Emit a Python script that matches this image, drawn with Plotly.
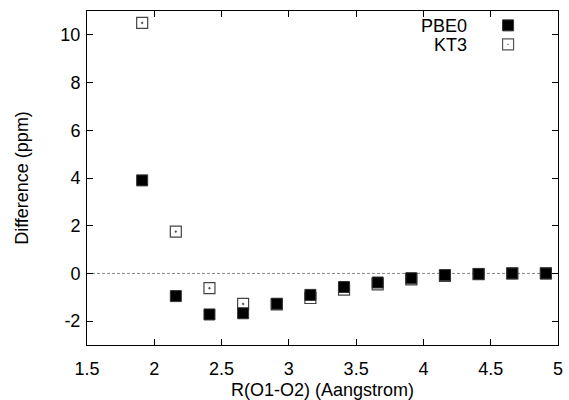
import plotly.graph_objects as go

# Data
r_values = [1.91, 2.16, 2.41, 2.66, 2.91, 3.16, 3.41, 3.66, 3.91, 4.16, 4.41, 4.66, 4.91]
pbe0_diff = [3.9, -0.95, -1.72, -1.67, -1.27, -0.9, -0.57, -0.38, -0.2, -0.07, -0.02, 0.0, 0.0]
kt3_diff = [10.5, 1.75, -0.62, -1.28, -1.3, -1.03, -0.68, -0.46, -0.25, -0.1, -0.03, 0.0, 0.0]
series_names = ["PBE0", "KT3"]
x_ticks = [1.5, 2, 2.5, 3, 3.5, 4, 4.5, 5]
y_ticks = [-2, 0, 2, 4, 6, 8, 10]

FONT = "Liberation Sans, Arial, Helvetica, sans-serif"
FS = 18

fig = go.Figure()

fig.add_trace(go.Scatter(
    x=r_values, y=kt3_diff, mode="markers", name=series_names[1],
    marker=dict(symbol="square-open-dot", size=11, color="#444444",
                line=dict(color="#444444", width=1.2)),
    showlegend=False,
))
fig.add_trace(go.Scatter(
    x=r_values, y=pbe0_diff, mode="markers", name=series_names[0],
    marker=dict(symbol="square", size=11, color="black",
                line=dict(color="#333333", width=1)),
    showlegend=False,
))

# dashed zero reference line
fig.add_shape(type="line", xref="paper", x0=0, x1=1, yref="y", y0=0, y1=0,
              line=dict(color="#888888", width=1, dash="3px,2px"), layer="below")

# manual legend (text left of marker, gnuplot style)
legend_rows = [(series_names[0], 0.957), (series_names[1], 0.9)]
for i, (name, yy) in enumerate(legend_rows):
    fig.add_annotation(text=name, xref="paper", yref="paper", x=0.809, y=yy,
                       xanchor="right", yanchor="middle", showarrow=False,
                       height=17, borderpad=0,
                       font=dict(family=FONT, size=FS, color="black"))
    if i == 0:
        fig.add_shape(type="rect", xref="paper", yref="paper",
                      xsizemode="pixel", ysizemode="pixel",
                      xanchor=0.894, yanchor=yy, x0=-5.5, x1=5.5, y0=-5.5, y1=5.5,
                      fillcolor="black", line=dict(color="#333333", width=1))
    else:
        fig.add_shape(type="rect", xref="paper", yref="paper",
                      xsizemode="pixel", ysizemode="pixel",
                      xanchor=0.894, yanchor=yy, x0=-5.5, x1=5.5, y0=-5.5, y1=5.5,
                      fillcolor="white", line=dict(color="#555555", width=1.2))
        fig.add_shape(type="rect", xref="paper", yref="paper",
                      xsizemode="pixel", ysizemode="pixel",
                      xanchor=0.894, yanchor=yy, x0=-0.6, x1=0.6, y0=-0.6, y1=0.6,
                      fillcolor="#666666", line=dict(width=0))

axis_common = dict(
    showgrid=False, zeroline=False, showline=True, linecolor="black", linewidth=1,
    mirror="ticks", ticks="inside", ticklen=6, tickcolor="black", tickwidth=1,
    tickfont=dict(family=FONT, size=FS, color="black"), automargin=False,
)

fig.update_xaxes(range=[1.5, 5], tickvals=x_ticks,
                 ticktext=[f"{v:g}" for v in x_ticks],
                 ticklabelstandoff=7,
                 title=dict(text="R(O1-O2) (Aangstrom)", standoff=6,
                            font=dict(family=FONT, size=FS, color="black")),
                 **axis_common)
fig.update_yaxes(range=[-3, 11], tickvals=y_ticks,
                 ticktext=[f"{v:g}" for v in y_ticks],
                 ticklabelstandoff=2,
                 title=dict(text="Difference (ppm)", standoff=27,
                            font=dict(family=FONT, size=FS, color="black")),
                 **axis_common)

fig.update_layout(
    width=569, height=400,
    margin=dict(l=87, r=11, t=11, b=55),
    plot_bgcolor="white", paper_bgcolor="white",
    font=dict(family=FONT, size=FS, color="black"),
)

fig.write_html("out.html")
